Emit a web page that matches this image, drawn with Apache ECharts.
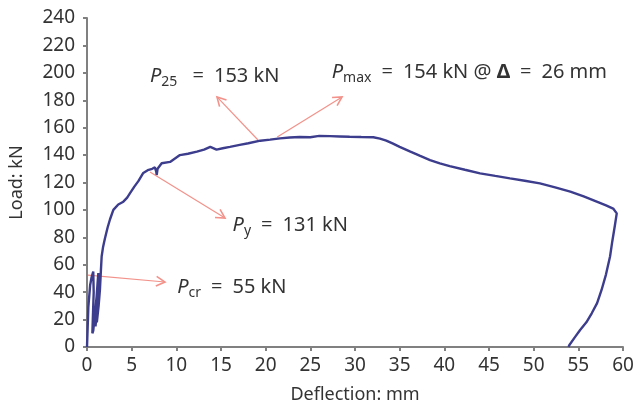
<!DOCTYPE html>
<html>
<head>
<meta charset="utf-8">
<script src="https://cdn.jsdelivr.net/npm/echarts@6/dist/echarts.min.js"></script>
<style>
  html, body { margin: 0; padding: 0; background: #fff; }
  #chart { width: 636px; height: 410px; }
</style>
</head>
<body>
<div id="chart"></div>
<script>
// Load–deflection response of the tested specimen (early load cycles, then monotonic push to failure)
const deflection = [
  0, 0.15, 0.35, 0.52, 0.7, 0.85, 0.75, 0.65, 0.6, 0.7, 0.9, 1.08, 1.2, 1.27, 1.2, 1.05, 0.9, 0.95,
  1.1, 1.3, 1.4, 1.35, 1.2, 1.05, 1.1,
  1.3, 1.45, 1.55, 1.64, 1.8, 2.0, 2.3, 2.57, 2.95, 3.5, 4.07, 4.5, 4.8, 5.3, 5.75, 6.3, 6.8, 7.3,
  7.6, 7.75, 7.8, 7.9, 8.36, 9.3, 10.4, 11.3, 12.3, 13.1, 13.8, 14.5, 15.2, 16.0, 17.1, 18.06,
  19.4, 20.5, 21.6, 22.7, 23.8, 25.0, 26.0, 27.2, 28.3, 29.4, 30.7, 32.05, 32.8, 33.5, 34.2, 35.0,
  36.2, 37.3, 38.4, 39.5, 40.6, 42.3, 44.0, 45.7, 47.35, 49.0, 50.7, 52.4, 54.1, 55.6, 57.06, 58.1,
  58.9, 59.3, 59.1, 58.8, 58.55, 58.1, 57.6, 57.1, 56.5, 55.9, 55.2, 54.6, 54.0, 53.9
];
const load = [
  0, 29, 45, 51, 55, 54, 40, 20, 10, 12, 25, 37, 48, 54, 45, 30, 18, 15,
  25, 40, 52, 44, 30, 20, 18,
  30, 42, 55, 66, 73, 79, 87, 93, 100, 104, 106, 109, 112, 117, 121, 127, 129, 130,
  131, 128, 125.5, 130, 134, 135, 140, 141, 142.5, 144, 146, 144, 145, 146, 147.4, 148.6,
  150.5, 151.3, 152.2, 152.8, 153.2, 153, 154, 153.8, 153.6, 153.4, 153.2, 153, 152, 150.5, 148.5, 146,
  142.5, 139.4, 136.4, 134, 132, 129.3, 126.7, 124.8, 123, 121.3, 119.4, 116.5, 113.3, 109.8, 106, 103.3,
  101, 97.5, 89, 77, 66, 53, 41.6, 32, 24.6, 18, 12.4, 7, 1.5, 0
];

// Axis ranges and tick steps
const xMin = 0, xMax = 60, xStep = 5;
const yMin = 0, yMax = 240, yStep = 20;
const xTitle = 'Deflection: mm';
const yTitle = 'Load: kN';

// Annotation arrows: [fromX, fromY] -> [toX, toY]
const arrowStart = [[19.14, 151], [21.3, 153.2], [7.05, 127.7], [0.11, 52.5]];
const arrowEnd   = [[14.55, 182.4], [28.55, 182.4], [15.45, 94.1], [8.73, 47.4]];

// Annotation labels: anchor (left, middle) and rich text pieces
const SP = '\u2002'; // en space around the relation signs
const labelAnchor = [[7.05, 197.7], [27.4, 200.6], [16.3, 89], [10.1, 43.8]];
const labelText = [
  '{p|P}{sub|25}{t| ' + SP + '=' + SP + '153 kN}',
  '{p|P}{sub|max}{t|' + SP + '=' + SP + '154 kN @ }{d|Δ}{t|' + SP + '=' + SP + '26 mm}',
  '{p|P}{sub|y}{t|' + SP + '=' + SP + '131 kN}',
  '{p|P}{sub|cr}{t|' + SP + '=' + SP + '55 kN}'
];

const FONT = '"Noto Sans", "Open Sans", sans-serif';
const TEXT = '#333333';
const AXIS = '#808080';
const CURVE = '#3d3d8e';
const ARROW = '#f2928a';

const curveData = deflection.map((d, i) => [d, load[i]]);
const arrowData = arrowStart.map((s, i) => [s[0], s[1], arrowEnd[i][0], arrowEnd[i][1]]);
const labelData = labelAnchor.map((a, i) => [a[0], a[1], i]);

const rich = {
  p: { fontFamily: FONT, fontSize: 20, fontStyle: 'italic', lineHeight: 26, fill: TEXT },
  sub: { fontFamily: FONT, fontSize: 14, lineHeight: 14, verticalAlign: 'bottom', fill: TEXT },
  t: { fontFamily: FONT, fontSize: 20, lineHeight: 26, fill: TEXT },
  d: { fontFamily: FONT, fontSize: 20, fontWeight: 'bold', lineHeight: 26, fill: TEXT }
};

const chart = echarts.init(document.getElementById('chart'), null, { renderer: 'canvas' });

chart.setOption({
  animation: false,
  backgroundColor: '#ffffff',
  grid: { left: 87, right: 13, top: 18, bottom: 63, containLabel: false, outerBoundsMode: 'none' },
  xAxis: {
    type: 'value', min: xMin, max: xMax, interval: xStep,
    name: xTitle, nameLocation: 'middle', nameGap: 39,
    nameTextStyle: { fontFamily: FONT, fontSize: 18, color: TEXT },
    axisLine: { show: true, lineStyle: { color: AXIS, width: 2 } },
    axisTick: { show: true, length: 4, lineStyle: { color: AXIS, width: 2 } },
    axisLabel: { fontFamily: FONT, fontSize: 19, color: TEXT, margin: 9 },
    splitLine: { show: false }
  },
  yAxis: {
    type: 'value', min: yMin, max: yMax, interval: yStep,
    name: yTitle, nameLocation: 'middle', nameGap: 61, nameRotate: 90,
    nameTextStyle: { fontFamily: FONT, fontSize: 18, color: TEXT },
    axisLine: { show: true, lineStyle: { color: AXIS, width: 2 } },
    axisTick: { show: true, length: 4, lineStyle: { color: AXIS, width: 2 } },
    axisLabel: { fontFamily: FONT, fontSize: 19, color: TEXT, margin: 12 },
    splitLine: { show: false }
  },
  series: [
    {
      type: 'line',
      data: curveData,
      showSymbol: false,
      smooth: false,
      clip: false,
      lineStyle: { color: CURVE, width: 2.4 },
      z: 3
    },
    {
      type: 'custom',
      data: arrowData,
      clip: false,
      z: 2,
      renderItem: function (params, api) {
        const a = api.coord([api.value(0), api.value(1)]);
        const b = api.coord([api.value(2), api.value(3)]);
        const ang = Math.atan2(b[1] - a[1], b[0] - a[0]);
        const len = 10, spread = 0.5;
        const h1 = [b[0] - len * Math.cos(ang - spread), b[1] - len * Math.sin(ang - spread)];
        const h2 = [b[0] - len * Math.cos(ang + spread), b[1] - len * Math.sin(ang + spread)];
        return {
          type: 'group',
          children: [
            { type: 'line', shape: { x1: a[0], y1: a[1], x2: b[0], y2: b[1] },
              style: { stroke: ARROW, lineWidth: 1.2 } },
            { type: 'polyline', shape: { points: [h1, b, h2] },
              style: { stroke: ARROW, lineWidth: 1.6, fill: null } }
          ]
        };
      }
    },
    {
      type: 'custom',
      data: labelData,
      clip: false,
      z: 4,
      renderItem: function (params, api) {
        const p = api.coord([api.value(0), api.value(1)]);
        return {
          type: 'text',
          x: p[0], y: p[1],
          style: {
            text: labelText[api.value(2)],
            rich: rich,
            align: 'left',
            verticalAlign: 'middle',
            fill: TEXT,
            font: '20px ' + FONT
          }
        };
      }
    }
  ]
});
</script>
</body>
</html>
